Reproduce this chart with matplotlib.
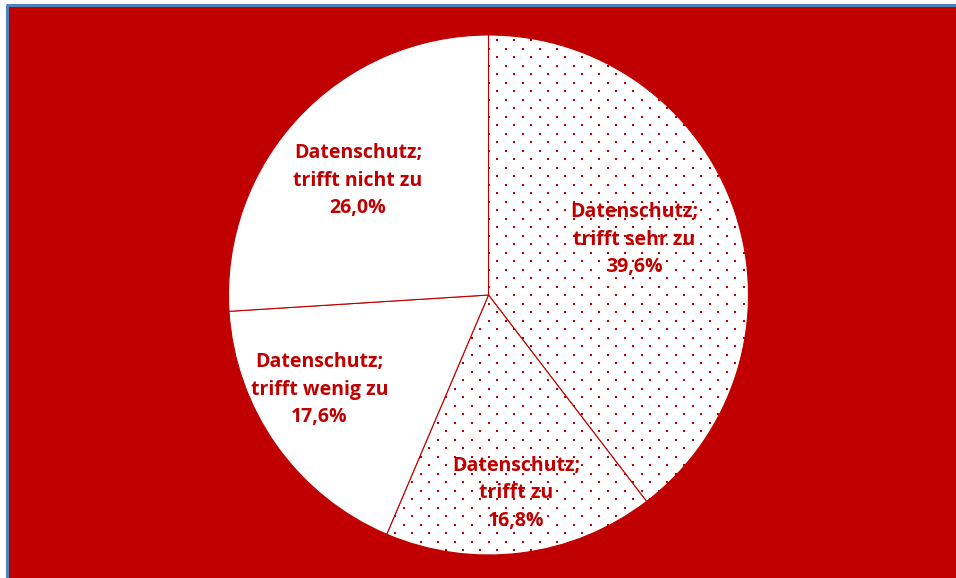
import numpy as np
import matplotlib.pyplot as plt
from matplotlib.patches import Rectangle

# --- Daten ---
labels = ["Datenschutz;\ntrifft sehr zu", "Datenschutz;\ntrifft zu",
          "Datenschutz;\ntrifft wenig zu", "Datenschutz;\ntrifft nicht zu"]
values = [39.6, 16.8, 17.6, 26.0]
dotted = [True, True, False, False]
label_dist = [0.60, 0.77, 0.745, 0.667]
label_shift = [2.0, 0.7, -6.0, 2.0]   # Grad, Feinjustierung der Beschriftung

RED = "#C00000"
BLUE = "#4F81BD"
W, H = 956, 578

plt.rcParams.update({"font.family": ["Open Sans", "DejaVu Sans"]})

fig = plt.figure(figsize=(W / 100, H / 100), dpi=100, facecolor="white")

# Hintergrund (rote Fläche mit blauem Rand oben/links)
bg = fig.add_axes([0, 0, 1, 1]); bg.set_axis_off()
bg.set_xlim(0, W); bg.set_ylim(H, 0)
bg.add_patch(Rectangle((7, 5), W, H, facecolor=RED, edgecolor="none"))
bg.plot([7, 7], [5, H], color=BLUE, lw=2.2, solid_capstyle="butt")
bg.plot([6, W], [5, 5], color=BLUE, lw=2.2, solid_capstyle="butt")

# Torte
ax = fig.add_axes([0, 0, 1, 1]); ax.set_axis_off()
r_px, cx, cy = 260, 488.5, 283
wedges, _ = ax.pie(values, startangle=90, counterclock=False, radius=1,
                   colors=["white"] * 4,
                   wedgeprops=dict(edgecolor=RED, linewidth=0.8))
ax.set_xlim(-cx / r_px, (W - cx) / r_px)
ax.set_ylim(-cy / r_px, (H - cy) / r_px)
ax.set_aspect("auto")

# Punktmuster (versetztes Raster, 17 px)
gx, gy = [], []
for i, py in enumerate(np.arange(6, H, 8.5)):
    off = 4 if i % 2 == 0 else 12.5
    for px in np.arange(off, W, 17):
        gx.append((px - cx) / r_px)
        gy.append((H - py - cy) / r_px)
for w, d in zip(wedges, dotted):
    if d:
        sc = ax.scatter(gx, gy, s=2.2, marker="s", color=RED, linewidths=0, zorder=3)
        sc.set_clip_path(w)

for w, lab, v, d, sh in zip(wedges, labels, values, label_dist, label_shift):
    ang = np.deg2rad((w.theta1 + w.theta2) / 2 + sh)
    ax.text(d * np.cos(ang), d * np.sin(ang), f"{lab}\n{v:.1f}%".replace(".", ","),
            ha="center", va="center", color=RED, fontsize=14, fontweight="bold",
            linespacing=1.5, zorder=5)

plt.savefig("out.png", dpi=100, facecolor="white")
